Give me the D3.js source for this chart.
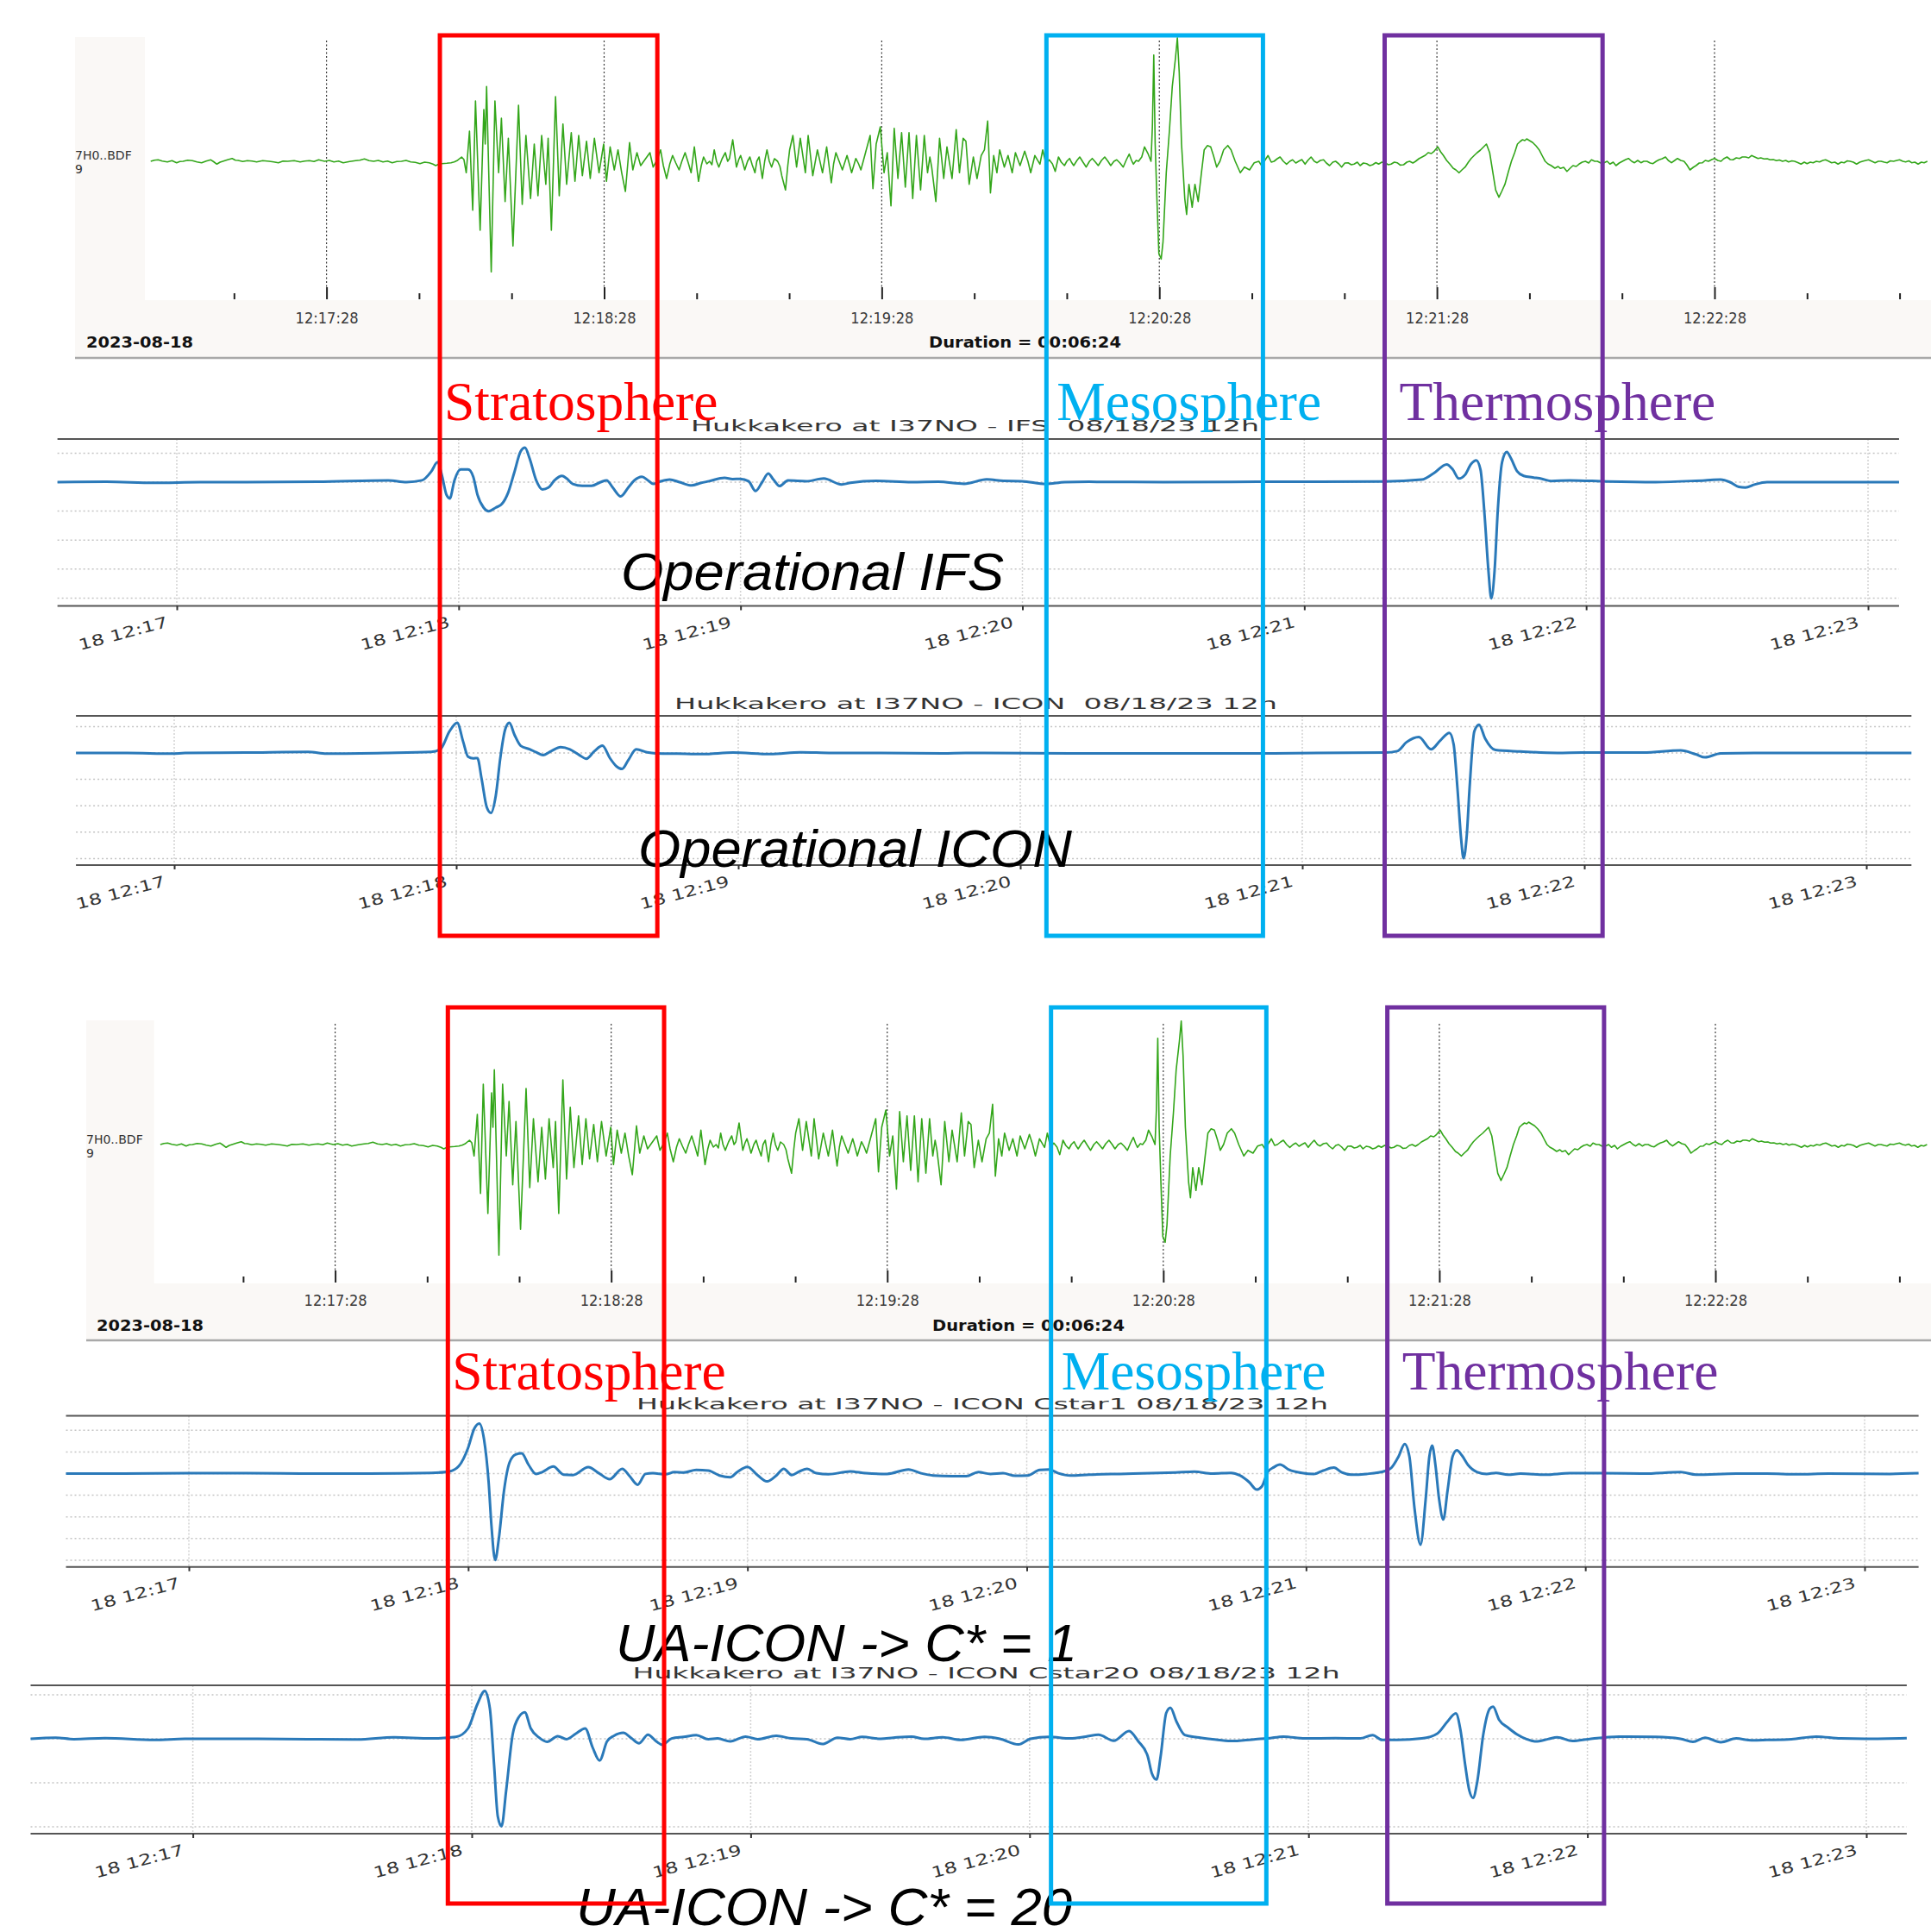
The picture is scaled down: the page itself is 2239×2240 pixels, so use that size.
<!DOCTYPE html>
<html><head><meta charset="utf-8">
<script src="https://cdn.jsdelivr.net/npm/d3@7"></script>
<style>
html,body{margin:0;padding:0;background:#fff;}
svg text{white-space:pre;}
</style></head><body>
<script>
// ================= DATA =================
// All times: seconds after 2023-08-18 12:17:00. Amplitudes: arbitrary units.

// Recorded infrasound at I37NO (7H0..BDF), split into segments
const obsPre = [[-10,0],[-9.2,1.3],[-8.4,1.7],[-7.5,0.3],[-6.4,-0.7],[-5.4,0.7],[-4.4,-1.7],[-3.7,-0.3],[-3.0,0],[-2,1.3],[-1.0,0.7],[0,-0.7],[1.0,-1.7],[2,0.3],[3.0,1.7],[3.6,-0.5],[4.3,-3.3],[5.0,-1],[5.6,0],[6.6,1.7],[7.6,3.3],[8.3,1.3],[8.9,1.0],[9.9,-0.3],[10.9,0.7],[11.9,0.3],[12.9,-0.7],[14.2,0.7],[15.6,0],[16.6,-0.7],[17.6,-1.7],[18.6,0.3],[19.6,0],[21,0.7],[22.3,-0.7],[23.3,0.3],[24.3,0.7],[25.3,-0.3],[26.3,1.7],[27,0.7],[27.6,0],[28.6,1.0],[29.6,-0.7],[30.6,0.3],[31.6,-1.7],[33,-0.3],[34.3,0.7],[35.2,1.3],[36.2,2.7],[37.2,0.7],[38.2,0],[39.2,1.0],[40.2,-0.7],[41.2,0.3],[42.2,-1.7],[43.2,-0.3],[44.2,0],[45.2,1.0],[46.2,-0.7],[47.2,-1.3],[48.2,-2.7],[49.2,-1.0],[50.2,-1.7],[51.0,-3.3],[51.6,-5],[52.3,-3.3],[52.9,-2.7],[54,-2.3],[54.9,-1.7],[55.6,-0.7],[56.2,0.7],[57.2,5]];
const obsStrat = [[57.7,2],[58.2,-13.3],[58.9,35],[59.6,-56.7],[60.2,70],[61.2,-80],[62.0,60],[62.3,20],[62.6,86.7],[63.6,-128.3],[64.4,70],[65.2,-13.3],[65.8,50],[66.6,-46.7],[67.3,26.7],[68.3,-98.3],[69.5,65],[70.3,-50],[71.1,30],[72.1,-43.3],[72.9,20],[73.7,-40],[74.5,30],[75.4,-26.7],[75.9,26.7],[76.6,-80],[77.5,75],[78.3,-40],[79.1,43.3],[79.9,-26.7],[80.9,33.3],[81.7,-23.3],[82.5,30],[83.3,-16.7],[84.2,23.3],[85.0,-20],[85.9,26.7],[86.9,-13.3],[87.9,20],[88.5,-23.3],[89.3,16.7],[90.2,-10],[91.0,13.3],[91.8,-13.3],[92.6,-35],[93.5,21.7],[94.2,-10],[95.1,10],[95.9,-5],[96.8,1.7],[97.9,10],[98.6,-6.7]];
const obsMid = [[99.5,2],[100.2,13.3],[100.8,-5],[101.5,-20],[102.2,-3],[102.8,6.7],[103.5,-2],[104.2,-10],[104.8,0],[105.5,10],[106.2,-2],[106.8,-13.3],[107.5,16.7],[108.4,-23.3],[109.0,-5],[109.5,5],[110.2,-3],[110.8,0],[111.3,-4],[111.8,13.3],[112.3,0],[112.8,-6.7],[113.5,3],[114.2,10],[114.7,0],[115.1,3.3],[115.8,25],[116.6,-6.7],[117.1,2],[117.5,6.7],[118.0,-2],[118.4,-10],[119.0,0],[119.5,5],[120.0,-4],[120.6,-13.3],[121.0,0],[121.5,5],[122.2,-20],[122.7,0],[123.2,13.3],[123.7,0],[124.2,-6.7],[124.8,3],[125.5,0],[126.0,-6],[126.4,-16.7],[127.2,-33.3],[127.7,-5],[128.1,13.3],[128.8,30],[129.6,-6.7],[130.4,26.7],[131.5,-13.3],[132.1,30],[133.1,-16.7],[134.1,13.3],[135.2,-13.3],[136.1,16.7],[137.1,-25],[137.6,-3],[138.1,10],[138.8,0],[139.5,-10],[140.5,6.7],[141.0,-3],[141.5,-13.3],[142.4,3.3],[143.0,-3],[143.5,-10],[144.5,10],[145.5,30],[146.1,-31.7],[146.8,20],[147.7,40],[148.5,-13.3],[149.2,10],[150.0,-51.7],[150.7,38.3],[151.5,-20],[152.3,33.3],[153.1,-30],[153.9,33.3],[154.7,-43.3],[155.5,30],[156.4,-33.3],[157.2,30],[157.9,-13.3],[158.4,5],[158.8,-6.7],[159.7,-46.7],[160.5,26.7],[161.4,-20],[162.1,16.7],[163.2,-20],[164.1,36.7],[164.8,-13.3],[165.6,26.7],[166.2,23.3],[166.9,-26.7],[167.8,5],[168.6,-20],[169.5,6.7],[170.2,13.3],[170.9,46.7],[171.5,-36.7],[172.2,6.7],[172.9,-13.3],[173.5,13.3],[174.5,-6.7],[175.3,6.7],[176.2,-13.3],[176.9,10],[177.9,-5],[178.9,11.7],[179.6,0],[180.2,-13.3],[181.1,6.7],[182.2,-3.3],[182.8,13.3],[183.5,-3.3]];
const obsMeso = [[184.2,1.7],[184.9,-3],[185.5,-11.7],[186.2,5],[186.8,-1],[187.5,-5],[188.0,0],[188.6,3.3],[189.0,-1],[189.5,-5],[190.2,1],[190.8,5],[191.5,-1],[192.2,-6.7],[192.9,0],[193.5,3.3],[194.2,-1],[194.8,-5],[195.5,1],[196.2,5],[196.9,0],[197.5,-5],[198.2,0],[198.8,1.7],[199.5,-2],[200.2,-6.7],[200.9,2],[201.5,8.3],[202.0,1],[202.4,-3.3],[203.0,1],[203.5,0],[204.2,5],[204.8,16.7],[205.6,8.3],[206.2,0],[206.5,40],[206.8,123.3],[207.1,20],[207.5,-46.7],[207.9,-106.7],[208.4,-113.3],[208.8,-93.3],[209.5,-13.3],[210.2,36.7],[210.8,86.7],[211.5,120],[211.9,143.3],[212.3,103.3],[212.8,20],[213.5,-43.3],[213.9,-61.7],[214.4,-26.7],[215.1,-53.3],[215.7,-26.7],[216.4,-46.7],[217.1,-13.3],[217.7,13.3],[218.4,18.3],[219.1,16.7],[219.7,6.7],[220.4,-6.7],[221.1,0],[221.9,13.3],[222.8,18.3],[223.5,13.3],[224.4,0],[225.5,-13.3],[226.4,-6.7],[227.5,-10],[228.5,-1.7],[229.5,0],[230.1,-5]];
const obsPost = [[231.5,6.7],[232.2,-1],[232.8,0],[233.5,3],[234.1,5],[234.8,0],[235.5,-3.3],[236.2,0],[236.8,1.7],[237.5,-2],[238.1,0],[238.8,2],[239.5,-3.3],[240.1,1],[240.8,5],[241.5,0],[242.1,-1.7],[242.8,1],[243.5,1.7],[244.1,-2],[244.8,-5],[245.5,-1],[246.1,0],[246.8,-3],[247.4,-6.7],[248.1,-2],[248.8,-1.7],[249.5,-4],[250.1,-3.3],[250.8,-1],[251.4,-5],[252.1,-2],[252.8,-2.7],[253.5,-5],[254.1,-4],[254.8,-1.5],[255.4,-3.3],[256.1,-1],[256.8,-1.7],[257.5,-4],[258.1,-3.3],[258.8,-1],[259.4,-1.7],[260.1,-4.5],[260.8,-4],[261.5,-1],[262.1,0],[262.8,-2],[263.4,0],[264.1,3],[264.8,5],[265.5,7],[266.1,10],[266.8,9],[267.4,11.7],[268.2,16.7],[268.8,11],[269.4,6.7],[270.1,1],[270.8,-3.3],[271.5,-8],[272.1,-10],[272.8,-13.3],[273.4,-10],[274.1,-6.7],[274.8,-1],[275.4,3.3],[276.1,7],[276.7,10],[277.4,13],[278.1,16.7],[278.7,20],[279.4,10],[280.1,-13.3],[280.7,-33.3],[281.4,-41.7],[282.0,-35],[282.7,-26.7],[283.4,-13],[284.1,0],[284.8,10],[285.4,20],[286.0,23],[286.5,25],[287.0,24],[287.4,26],[288.0,24],[288.7,21.7],[289.4,18],[290.1,13.3],[290.8,6],[291.4,0],[292.0,-3],[292.7,-5],[293.5,-8],[294.2,-6],[294.7,-8.3],[295.4,-7],[296.1,-11.7],[296.8,-8],[297.4,-5],[298.1,-6],[298.7,-3.3],[299.4,-1],[300.1,0],[300.8,-2],[301.4,1.7],[302.1,0],[302.7,0],[303.4,-2],[304.1,-1.7],[304.8,0],[305.4,-3.3],[306.1,-1],[306.7,-5],[307.4,-2],[308.1,0],[308.8,2],[309.4,3.3],[310.1,0],[310.7,-1.7],[311.4,1],[312.1,-1.7],[312.7,0],[313.4,0],[314.1,-2],[314.7,-2.7],[315.4,0],[316.0,1.7],[316.7,3],[317.4,5],[318.0,1],[318.7,-1.7],[319.4,1],[320.0,3.3],[320.7,1],[321.4,0],[322.0,-4],[322.7,-10],[323.4,-7],[324.0,-5],[324.7,-2],[325.4,-1.7],[326.0,1],[326.7,0],[327.4,2],[328.0,3.3],[328.7,1],[329.4,0],[330.0,3],[330.7,5],[331.4,2],[332.0,1.7],[332.7,4],[333.4,3.3],[334.0,5],[334.7,5],[335.4,4],[336.0,6.7],[336.7,5],[337.4,3.3],[338.0,4],[338.7,2.7],[339.4,3],[340.0,1.7],[340.7,2],[341.4,0.7],[342.0,1.5],[342.7,0],[343.4,1],[344.0,-0.7],[344.7,0.5],[345.3,0],[346.0,-1.5],[346.7,-3.3],[347.4,-1],[348.0,-2.7],[348.7,-1],[349.3,-1.7],[350.0,0],[350.7,-0.7],[351.4,1],[352.0,1.7],[352.7,0],[353.3,-1.7],[354.0,-1],[354.7,-3.3],[355.4,-1],[356.0,-1.7],[356.7,0.5],[357.3,0],[358.0,-1],[358.7,-3.3],[359.4,-1],[360.0,0],[360.7,1],[361.3,1.7],[362.0,0],[362.7,-1.7],[363.4,0],[364.0,0],[364.7,-1],[365.3,-1.7],[366.0,0.5],[366.7,0],[367.4,1],[368.0,1.7],[368.7,0],[369.3,-0.7],[370.0,0.5],[370.6,-1.7],[371.3,-1],[372.0,-3.3],[372.7,-1],[373.3,-1.7],[374.0,0]];

// Simulated signals
const ifsTrace = [[-25.4,0],[-15,0.4],[-4.8,-0.8],[5,0],[14.8,0],[30,0.4],[45.0,2.1],[48.9,0],[52.2,2.1],[54.2,12.6],[55.5,23.2],[56.5,6.3],[57.4,-14.7],[58.1,-18.9],[59.1,2.1],[60.4,14.7],[62.0,14.7],[63.1,6.3],[64.0,-14.7],[65.3,-29.5],[66.4,-33.7],[67.9,-29.5],[69.2,-25.3],[70.5,-12.6],[71.8,10.5],[73.2,35.8],[74.1,40],[75.1,27.4],[76.5,2.1],[77.8,-8.4],[79.1,-6.3],[80.4,2.1],[82.0,7.2],[83.0,4.2],[84.3,-2.1],[86.3,-4.2],[88.3,-4.2],[90.2,0],[91.5,2.1],[92.8,-6.3],[94.5,-16.5],[96.1,-6.3],[97.4,2.1],[99.0,6.3],[100.3,2.1],[101.4,-2.1],[103,1],[104.9,3.1],[107,0],[109.6,-3.8],[111.5,-1],[113.3,1.1],[116.6,5.0],[118.3,3.5],[119.9,3.8],[121.7,1.1],[123.2,-10.3],[124.6,0],[125.9,10.0],[127,3],[128.3,-4.6],[130.1,1.9],[134.0,1.1],[137.7,4.2],[141.5,-2.7],[143.4,-0.8],[148.9,1.5],[156.4,0],[162.1,0.4],[167.6,-1.9],[172.4,3.2],[176,1.5],[179.9,1.1],[185.0,-2.2],[189,0],[194.2,0.4],[210,0],[230,0.4],[257.1,0.8],[265.0,2.9],[267.6,10.5],[270.3,20.6],[271.6,14.7],[272.9,4.2],[274.2,8.4],[275.5,21],[276.6,25.3],[277.5,14.7],[278.4,-40],[279.2,-103],[279.8,-134.7],[280.5,-103],[281.2,-31.6],[282.1,23.2],[283.1,34.9],[284.0,27.4],[285.3,12.6],[286.7,7.2],[288.6,5.5],[290.6,3.8],[292.6,1.3],[296.5,2.1],[304.4,0.8],[314.8,0],[325.3,2.1],[328.6,2.9],[330.6,0],[332.5,-5.5],[333.9,-6.3],[335.8,-2.9],[338.5,0],[351.6,0],[366.6,0]];
const iconTrace = [[-20.9,0],[-10,0],[-0.4,-0.8],[2.3,0],[15,0.4],[28.5,1.3],[32.4,-0.8],[45,0],[54.7,1.3],[56.6,4.2],[58.6,25.3],[60.2,34.9],[61.5,12.6],[62.5,-4.2],[63.6,-6.3],[64.5,-5.9],[65.4,-30],[66.5,-63],[67.4,-69.5],[68.4,-50],[69.4,-5],[70.4,27],[71.3,34.9],[72.4,21],[73.7,8.4],[75.7,4.2],[77.0,0.8],[78.5,-2.5],[80.2,2.1],[82.2,6.7],[84.2,4.2],[86.1,-2.1],[87.7,-6.7],[89.4,2.1],[91.1,8.4],[92.7,-6],[94.0,-15],[95.3,-18.5],[96.6,-8.4],[98.3,4.2],[100.6,0.8],[102.5,-0.4],[107.1,-0.8],[112.4,-1.3],[118.9,0.4],[126.8,-1.3],[133.3,0.8],[139.9,0],[150.4,0],[163.5,-0.4],[168.4,0],[194.6,-0.4],[234.0,-0.4],[257.6,0.4],[260.2,2.1],[262.2,12.6],[264.8,18.5],[267.4,4.2],[269.4,14.7],[271.3,23.2],[272.2,10],[273.0,-40],[273.8,-100],[274.3,-122.1],[275.0,-95],[275.6,-40],[276.6,25],[277.6,32.8],[278.9,16.8],[281.1,3.4],[286.4,1.7],[294.3,0],[299.5,0.4],[312.6,0.4],[320.5,2.9],[323.7,-1.5],[325.7,-5.1],[329.0,-0.4],[338.8,0],[351.9,0],[369.6,0]];
const cstar1Trace = [[-26.4,0],[-14.1,0],[0,0.4],[12.4,0.4],[25,0],[38.8,0],[52.1,0.8],[56.0,2.6],[58.0,8.7],[60.0,30],[61.3,52],[62.4,58.1],[63.4,40],[64.4,-10],[65.0,-60],[65.8,-100.2],[66.6,-75],[67.7,-20],[68.9,13],[70.2,22.1],[71.5,23.4],[73.0,10],[74.6,-0.4],[75.9,1.7],[78.3,8.2],[80.5,-1.3],[82.5,-1.7],[85.8,7.4],[88.1,0.4],[90.4,-6.5],[93.1,5.6],[94.7,-3],[96.4,-13],[98.1,-0.4],[99.7,0.4],[102.4,-0.8],[104.3,1.7],[106.3,1.3],[109.0,4.3],[111.6,3.5],[114.0,-2.2],[116.3,-4.3],[117.8,1.7],[120.0,7.8],[122.2,-2],[124.2,-9.1],[126.2,-2.2],[127.8,5.6],[129.5,-1.7],[131.2,2.6],[132.8,5.6],[134.8,0.4],[137.4,-0.8],[142.1,2.6],[145.4,0.4],[150.0,-0.4],[154.6,4.8],[157.3,0.4],[159.9,-2.2],[163.9,-3],[167.0,-3],[169.6,1.7],[172.2,-0.4],[174.9,0.4],[177.5,-2.6],[180.2,-2.2],[182.8,4.3],[184.8,4.8],[186.8,0.4],[189.4,-2.2],[193.4,-1.3],[200.0,-0.4],[206.7,0.4],[212.0,1.3],[216.0,2.2],[219.9,0],[223.9,0.8],[225.8,-2.2],[227.8,-10],[229.4,-18.6],[230.5,-15],[231.8,2],[233.1,7.4],[234.4,10.4],[236.4,4.3],[239.1,0.8],[241.7,-0.4],[243.7,3.5],[246.0,6.9],[247.7,1.3],[249.7,-1.3],[253.0,-0.4],[257.0,3],[258.3,6.5],[259.9,20],[261.2,34.3],[262.2,20],[263.3,-40],[264.6,-82.4],[265.7,-30],[266.5,20],[267.1,32.5],[267.8,10],[268.6,-30],[269.5,-53.3],[270.4,-20],[271.5,20],[272.4,26.9],[273.5,21],[274.8,10],[276.8,1.7],[278.8,-0.4],[280.8,0.8],[283.4,-1.3],[286.1,0],[291.4,-1.3],[296.7,0.4],[303.3,0.4],[312.5,0],[320.5,1.7],[323.8,-1.3],[332.4,0],[339.0,0],[345.6,-0.8],[352.2,0],[365.5,-0.4],[371.6,0.4]];
const cstar20Trace = [[-34.9,0],[-29.5,1.3],[-25.6,-0.4],[-18.9,0.8],[-8.3,-1.3],[-1.7,0],[11.5,0],[24.8,-0.4],[35.4,-0.8],[43.3,1.7],[51.3,0.4],[56.6,2.2],[59.2,12],[61.2,40],[62.8,55.5],[63.9,35],[64.8,-30],[65.6,-90],[66.4,-101.5],[67.4,-60],[68.8,5],[70.1,25],[71.4,30.8],[72.7,12],[74.5,1.3],[76.2,-3.5],[78.5,3],[80.4,-0.4],[82.4,6],[84.4,12.1],[86.0,-10],[87.5,-25.2],[89.1,-3],[90.6,3.5],[92.6,7],[94.4,0.4],[96.0,-5.2],[97.9,4.8],[99.7,-3],[101.0,-7],[103.0,0.4],[105.6,2.2],[108.3,4.3],[110.9,-0.4],[112.9,0.4],[115.6,-3],[118.9,2.6],[121.5,-0.4],[125.5,3.5],[128.8,0.4],[132.1,-0.4],[135.4,-6.1],[138.7,1.3],[141.4,-0.4],[144.0,2.2],[148.0,0],[150.7,1.3],[154.6,2.6],[157.3,0],[161.3,1.7],[165.2,-1.3],[170.3,2.2],[173.6,0],[177.6,-6.5],[180.2,0],[184.2,2.2],[188.8,0.4],[192.1,2.6],[194.8,4.8],[198.1,-2.2],[201.4,9.1],[203.4,-3],[205.4,-20],[206.3,-40],[207.3,-47.3],[208.2,-20],[209.4,30],[210.3,36],[211.6,20],[213.4,4.3],[216.0,1.7],[219.3,-0.4],[223.3,-2.6],[228.6,-0.4],[231.2,0.4],[234.6,2.6],[239.2,0.4],[245.8,0.8],[251.1,0.4],[253.8,4.3],[255.8,-1.3],[259.1,-1.3],[264.4,0.4],[267.7,6],[269.9,20],[271.7,29.5],[272.7,10],[273.7,-30],[274.6,-60],[275.4,-68.5],[276.3,-50],[277.6,5],[279.0,35],[279.7,37.3],[281.0,22],[282.9,13],[284.9,5],[286.9,-0.4],[288.9,-3],[291.5,-0.4],[293.5,1.7],[296.8,-2.6],[300.2,-0.4],[306.8,2.6],[314.7,2.2],[320.0,0],[322.7,-3.5],[325.3,1.3],[328.7,-3.9],[332.0,0.4],[335.3,-1.7],[338.6,-1.3],[343.9,-0.4],[349.2,2.6],[354.5,0.4],[359.8,0],[368.7,0.8]];

// Text / tick values
const obsStation = ["7H0..BDF", "9"];
const obsDate = "2023-08-18";
const obsDuration = "Duration = 00:06:24";
const obsMajorTicks = [28, 88, 148, 208, 268, 328];         // 12:17:28 ... 12:22:28
const modelTicks = [0, 60, 120, 180, 240, 300, 360];        // 12:17 ... 12:23
const modelTitles = ["Hukkakero at I37NO - IFS  08/18/23 12h",
                     "Hukkakero at I37NO - ICON  08/18/23 12h",
                     "Hukkakero at I37NO - ICON Cstar1 08/18/23 12h",
                     "Hukkakero at I37NO - ICON Cstar20 08/18/23 12h"];
const modelLabels = ["Operational IFS", "Operational ICON", "UA-ICON -> C* = 1", "UA-ICON -> C* = 20"];
const layerNames = ["Stratosphere", "Mesosphere", "Thermosphere"];
const layerWindows = [[52.5, 99.5], [183.6, 230.4], [256.7, 303.8]];

// ================= STYLE / LAYOUT =================
const W = 2239, H = 2240;
const layerColors = ["#ff0000", "#00b0f0", "#7030a0"];
const obsColor = "#33a61a", modelColor = "#2a79b9";
const bgColor = "#faf8f6";

const obsLayout = [
  { x28: 378.6, x328: 1988, base: 187, top: 43, left: 87, plotLeft: 168, band: 348, line: 415, gridTop: 47,
    labelBase: 375, footBase: 403, dateX: 100, durX: 1077, staBase: [185, 201] },
  { x28: 388.6, x328: 1989, base: 1327, top: 1183, left: 100, plotLeft: 178.6, band: 1488, line: 1554, gridTop: 1187,
    labelBase: 1514, footBase: 1543, dateX: 112, durX: 1081, staBase: [1325.5, 1341.5] }
];
const modelLayout = [
  { data: ifsTrace, x17: 205, x23: 2166, top: 509, bottom: 702.5, base: 559, step: 33.6, grid: [-1,0,1,2,3,4],
    titleX: 801, titleW: 659, titleBase: 500, labX: 720, labW: 444, labBase: 684 },
  { data: iconTrace, x17: 202, x23: 2164, top: 830, bottom: 1003, base: 873, step: 30.6, grid: [-1,0,1,2,3,4],
    titleX: 782, titleW: 699, titleBase: 822, labX: 740, labW: 503, labBase: 1005 },
  { data: cstar1Trace, x17: 219, x23: 2162, top: 1641.5, bottom: 1816.7, base: 1708.5, step: 25.1, grid: [-2,-1,0,1,2,3,4],
    titleX: 738, titleW: 802, titleBase: 1634, labX: 714, labW: 535, labBase: 1926 },
  { data: cstar20Trace, x17: 223.6, x23: 2164, top: 1954, bottom: 2126, base: 2016, step: 51, grid: [-1,0,1,2],
    titleX: 733.6, titleW: 820, titleBase: 1946, labX: 668, labW: 575, labBase: 2232 }
];
const boxLayout = [
  { panel: 0, top: 41, bottom: 1085, labelBase: 487 },
  { panel: 1, top: 1168, bottom: 2207, labelBase: 1611 }
];
const labelOffsets = [5, 12, 17];

// ================= DRAW =================
const base = new Date(2023, 7, 18, 12, 17, 0);
const T = s => new Date(base.getTime() + s * 1000);

const svg = d3.select("body").append("svg")
  .attr("width", W).attr("height", H).style("display", "block");

const obsTrace = [].concat(obsPre, obsStrat, obsMid, obsMeso, obsPost);
const obsScales = [];

function drawObs(L) {
  const g = svg.append("g");
  const x = d3.scaleTime().domain([T(28), T(328)]).range([L.x28, L.x328]);
  const y = d3.scaleLinear().domain([0, 1]).range([L.base, L.base - 1]);
  obsScales.push(x);

  g.append("rect").attr("x", L.left).attr("y", L.top).attr("width", L.plotLeft - L.left)
    .attr("height", L.line - L.top).attr("fill", bgColor);
  g.append("rect").attr("x", L.left).attr("y", L.band).attr("width", W - L.left)
    .attr("height", L.line - L.band).attr("fill", bgColor);
  g.append("line").attr("x1", L.left).attr("x2", W).attr("y1", L.line).attr("y2", L.line)
    .attr("stroke", "#a9a9a9").attr("stroke-width", 2.5);

  const majors = obsMajorTicks.map(T);
  const minors = d3.range(8, 369, 20).filter(s => !obsMajorTicks.includes(s)).map(T);

  g.selectAll(".vgrid").data(majors).join("line")
    .attr("x1", d => x(d)).attr("x2", d => x(d))
    .attr("y1", L.gridTop).attr("y2", L.band - 15)
    .attr("stroke", "#3a3a3a").attr("stroke-width", 1.2).attr("stroke-dasharray", "2,2.5");

  const minG = g.append("g").attr("transform", `translate(0,${L.band - 1})`)
    .call(d3.axisTop(x).tickValues(minors).tickSize(7).tickFormat(""));
  minG.select(".domain").remove();
  minG.selectAll("line").attr("stroke", "#222").attr("stroke-width", 2);
  const majG = g.append("g").attr("transform", `translate(0,${L.band - 1})`)
    .call(d3.axisTop(x).tickValues(majors).tickSize(14).tickFormat(""));
  majG.select(".domain").remove();
  majG.selectAll("line").attr("stroke", "#222").attr("stroke-width", 2);

  const labG = g.append("g").attr("transform", `translate(0,${L.labelBase})`)
    .call(d3.axisBottom(x).tickValues(majors).tickSize(0).tickFormat(d3.timeFormat("%H:%M:%S")));
  labG.select(".domain").remove();
  labG.selectAll("text").attr("y", 0).attr("dy", 0)
    .attr("font-family", "DejaVu Sans").attr("font-size", 18).attr("fill", "#3a3a3a")
    .attr("textLength", 73).attr("lengthAdjust", "spacingAndGlyphs");

  g.append("path").datum(obsTrace)
    .attr("d", d3.line().x(d => x(T(d[0]))).y(d => y(d[1])))
    .attr("fill", "none").attr("stroke", obsColor).attr("stroke-width", 1.6)
    .attr("stroke-linejoin", "round");

  g.selectAll(".sta").data(obsStation).join("text")
    .attr("x", L.left).attr("y", (d, i) => L.staBase[i])
    .attr("font-family", "DejaVu Sans").attr("font-size", 14).attr("fill", "#333")
    .text(d => d);
  g.append("text").attr("x", L.dateX).attr("y", L.footBase)
    .attr("font-family", "DejaVu Sans").attr("font-weight", "bold").attr("font-size", 18)
    .attr("textLength", 124).attr("lengthAdjust", "spacingAndGlyphs").attr("fill", "#111")
    .text(obsDate);
  g.append("text").attr("x", L.durX).attr("y", L.footBase)
    .attr("font-family", "DejaVu Sans").attr("font-weight", "bold").attr("font-size", 18)
    .attr("textLength", 223).attr("lengthAdjust", "spacingAndGlyphs").attr("fill", "#111")
    .text(obsDuration);
}
obsLayout.forEach(drawObs);

function drawModel(P, i) {
  const g = svg.append("g");
  const x = d3.scaleTime().domain([T(0), T(360)]).range([P.x17, P.x23]);
  const y = d3.scaleLinear().domain([0, 1]).range([P.base, P.base - 1]);
  const xa = x(T(P.data[0][0])), xb = x(T(P.data[P.data.length - 1][0]));

  // horizontal grid
  g.selectAll(".hg").data(P.grid.map(k => -k * P.step)).join("line")
    .attr("x1", xa).attr("x2", xb).attr("y1", d => y(d)).attr("y2", d => y(d))
    .attr("stroke", "#c4c4c4").attr("stroke-width", 1.5).attr("stroke-dasharray", "2,3");
  // vertical grid
  const ticks = modelTicks.map(T);
  g.selectAll(".vg").data(ticks).join("line")
    .attr("x1", d => x(d)).attr("x2", d => x(d)).attr("y1", P.top).attr("y2", P.bottom)
    .attr("stroke", "#d2d2d2").attr("stroke-width", 1.5).attr("stroke-dasharray", "2,2");
  // frame (top/bottom spines)
  [P.top, P.bottom].forEach(yy => g.append("line").attr("x1", xa).attr("x2", xb)
    .attr("y1", yy).attr("y2", yy).attr("stroke", "#555").attr("stroke-width", 2));
  // ticks + rotated labels
  const ax = g.append("g").attr("transform", `translate(0,${P.bottom})`)
    .call(d3.axisBottom(x).tickValues(ticks).tickSize(5).tickFormat(d3.timeFormat("%d %H:%M")));
  ax.select(".domain").remove();
  ax.selectAll("line").attr("stroke", "#333").attr("stroke-width", 2);
  ax.selectAll("text").attr("x", 0).attr("y", 0).attr("dy", 0)
    .attr("transform", "translate(-10,24) rotate(-15)")
    .attr("text-anchor", "end")
    .attr("font-family", "DejaVu Sans").attr("font-size", 17.5).attr("fill", "#333")
    .attr("textLength", 106).attr("lengthAdjust", "spacingAndGlyphs");
  // title
  g.append("text").attr("x", P.titleX).attr("y", P.titleBase)
    .attr("font-family", "DejaVu Sans").attr("font-size", 18).attr("fill", "#333")
    .attr("textLength", P.titleW).attr("lengthAdjust", "spacingAndGlyphs")
    .text(modelTitles[i]);
  // trace
  g.append("path").datum(P.data)
    .attr("d", d3.line().x(d => x(T(d[0]))).y(d => y(d[1])).curve(d3.curveMonotoneX))
    .attr("fill", "none").attr("stroke", modelColor).attr("stroke-width", 3)
    .attr("stroke-linejoin", "round");
}
modelLayout.forEach(drawModel);

// model labels
modelLayout.forEach((P, i) => {
  svg.append("text").attr("x", P.labX).attr("y", P.labBase)
    .attr("font-family", "Liberation Sans, Arial, sans-serif").attr("font-style", "italic")
    .attr("font-size", 62).attr("fill", "#000")
    .attr("textLength", P.labW).attr("lengthAdjust", "spacingAndGlyphs")
    .text(modelLabels[i]);
});

// layer boxes + labels
boxLayout.forEach(B => {
  const x = obsScales[B.panel];
  const g = svg.append("g");
  g.selectAll("rect").data(layerWindows).join("rect")
    .attr("x", d => x(T(d[0]))).attr("y", B.top)
    .attr("width", d => x(T(d[1])) - x(T(d[0]))).attr("height", B.bottom - B.top)
    .attr("fill", "none").attr("stroke", (d, i) => layerColors[i]).attr("stroke-width", 5);
  g.selectAll("text").data(layerWindows).join("text")
    .attr("x", (d, i) => x(T(d[0])) + labelOffsets[i]).attr("y", B.labelBase)
    .attr("font-family", "Liberation Serif, Times New Roman, serif").attr("font-size", 63.5)
    .attr("fill", (d, i) => layerColors[i])
    .text((d, i) => layerNames[i]);
});
</script>
</body></html>
